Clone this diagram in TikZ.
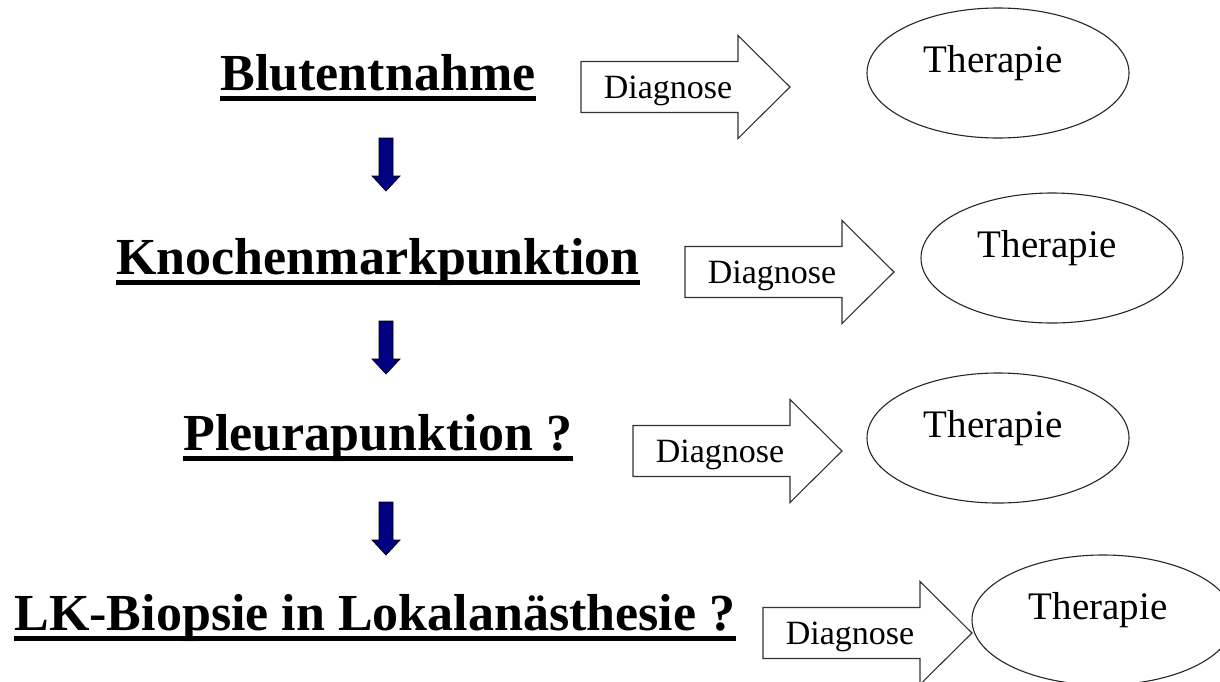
\documentclass[tikz,border=0pt]{standalone}
\usepackage{fontspec}
\setmainfont{Liberation Serif}
\usetikzlibrary{shapes.geometric}
\definecolor{navyarrow}{RGB}{0,0,128}
\begin{document}
\begin{tikzpicture}[x=1pt,y=-1pt,
  mainlbl/.style={anchor=base,inner sep=0pt,font=\fontsize{52}{60}\selectfont\bfseries},
  ulline/.style={line width=5pt,black},
  diagtxt/.style={anchor=base,inner sep=0pt,font=\fontsize{34}{40}\selectfont},
  therapytxt/.style={anchor=base,inner sep=0pt,font=\fontsize{39}{46}\selectfont},
  therapy/.style={ellipse,draw=black!85,line width=1.1pt,minimum width=262pt,minimum height=130pt,inner sep=0pt},
  blockarrow/.style={draw=black!80,line width=1.1pt,fill=white,line join=miter},
  downarrow/.style={fill=navyarrow,draw=black,line width=0.7pt,line join=miter}]
\useasboundingbox (0,0) rectangle (1220,681);
\clip (0,0) rectangle (1220,681);
\fill[white] (0,0) rectangle (1220,681);

% main labels
\node[mainlbl] (t1) at (378,90) {Blutentnahme};
\node[mainlbl] (t2) at (378,274) {Knochenmarkpunktion};
\node[mainlbl] (t3) at (378,450) {Pleurapunktion ?};
\node[mainlbl] (t4) at (375,630) {LK-Biopsie in Lokalanästhesie ?};
\foreach \n in {t1,t2,t3,t4}{
  \draw[ulline] ([yshift=-8.5pt]\n.base west) -- ([yshift=-8.5pt]\n.base east);
}

% blue down arrows
\coordinate (d1) at (386,138);
\coordinate (d2) at (386,321);
\coordinate (d3) at (386,502);
\foreach \d in {d1,d2,d3}{
  \filldraw[downarrow] (\d) ++(-7,0) -- ++(14,0) -- ++(0,38) -- ++(7,0) -- ++(-14,15) -- ++(-14,-15) -- ++(7,0) -- cycle;
}

% block arrows "Diagnose"
\coordinate (b1) at (581,87);
\coordinate (b2) at (685,272);
\coordinate (b3) at (633,451);
\coordinate (b4) at (763,633);
\foreach \b in {b1,b2,b3,b4}{
  \filldraw[blockarrow] (\b) ++(0,-25.5) -- ++(157,0) -- ++(0,-26) -- ++(52,51.5) -- ++(-52,51.5) -- ++(0,-26) -- ++(-157,0) -- cycle;
}
\node[diagtxt] (g1) at ([xshift=87pt,yshift=-11pt]b1) {Diagnose};
\node[diagtxt] (g2) at ([xshift=87pt,yshift=-11pt]b2) {Diagnose};
\node[diagtxt] (g3) at ([xshift=87pt,yshift=-11pt]b3) {Diagnose};
\node[diagtxt] (g4) at ([xshift=87pt,yshift=-11pt]b4) {Diagnose};

% therapy ellipses
\node[therapy] (e1) at (998,73) {};
\node[therapy] (e2) at (1052,258) {};
\node[therapy] (e3) at (998,438) {};
\node[therapy] (e4) at (1103,620) {};
\foreach \e in {e1,e2,e3,e4}{
  \node[therapytxt] (\e txt) at ([xshift=-5pt,yshift=1pt]\e.center) {Therapie};
}
\end{tikzpicture}
\end{document}
